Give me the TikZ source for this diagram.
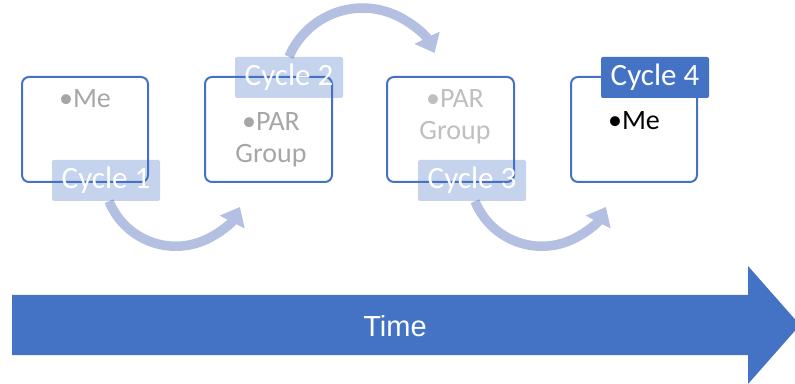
\documentclass[tikz,border=0pt]{standalone}
\usepackage{fontspec}
\setmainfont{Carlito}
\newfontfamily\arialfont{Liberation Sans}
\usetikzlibrary{arrows.meta}
\definecolor{accent}{HTML}{4472C4}
\definecolor{flow}{HTML}{B4C0E1}
\definecolor{fadedA}{HTML}{A6A6A6}
\definecolor{fadedB}{HTML}{BFBFBF}
\tikzset{
  cyclebox/.style={draw=accent, line width=2pt, rounded corners=7pt},
  tagfaded/.style={fill=accent, fill opacity=0.31, text opacity=1, text=white,
    rounded corners=2pt, minimum width=108pt, minimum height=41pt, inner sep=0pt,
    font=\fontsize{31}{36}\selectfont},
  tagsolid/.style={fill=accent, text=white, rounded corners=2pt,
    minimum width=108pt, minimum height=41pt, inner sep=0pt,
    font=\fontsize{31}{36}\selectfont},
  bodytext/.style={anchor=base, align=center, inner sep=0pt,
    font=\fontsize{28}{32}\selectfont},
  flowarrow/.style={draw=flow, line width=9.5pt,
    -{Triangle[width=27pt,length=17pt]}},
}
\begin{document}
\begin{tikzpicture}[x=1pt,y=1pt]
\useasboundingbox (0,0) rectangle (795,383);
\clip (0,0) rectangle (795,383);

% time axis
\fill[accent] (12,88) -- (748,88) -- (748,117) -- (800,58) -- (748,-1)
  -- (748,28) -- (12,28) -- cycle;
\node[text=white, font=\arialfont\fontsize{29}{32}\selectfont] (time) at (395,57) {Time};

% cycle frames
\draw[cyclebox] (22,201) rectangle (148,306);
\draw[cyclebox] (205,201) rectangle (332,306);
\draw[cyclebox] (387,201) rectangle (514,306);
\draw[cyclebox] (571,201) rectangle (697,306);

% frame contents (base anchor sits on the last line)
\node[bodytext, text=fadedA] (t1) at (85,275) {•Me};
\node[bodytext, text=fadedA] (t2) at (271,220) {•PAR\\Group};
\node[bodytext, text=fadedB] (t3) at (455,243) {•PAR\\Group};
\node[bodytext, text=black] (t4) at (634,253) {•Me};

% tag positions
\path (106,202.5) node[minimum width=108pt, minimum height=41pt] (c1) {};
\path (289,305.5) node[minimum width=108pt, minimum height=41pt] (c2) {};
\path (472,202.5) node[minimum width=108pt, minimum height=41pt] (c3) {};

% flow arrows
\draw[flowarrow] ([xshift=3pt]c1.south) arc[start angle=202, end angle=333, radius=72];
\draw[flowarrow] (c2.north) arc[start angle=157, end angle=26, radius=80];
\draw[flowarrow] ([xshift=3pt]c3.south) arc[start angle=202, end angle=333, radius=72];

% cycle tags
\node[tagfaded] at (c1) {Cycle 1};
\node[tagfaded] at (c2) {Cycle 2};
\node[tagfaded] at (c3) {Cycle 3};
\node[tagsolid] (c4) at (655,305.5) {Cycle 4};
\end{tikzpicture}
\end{document}
